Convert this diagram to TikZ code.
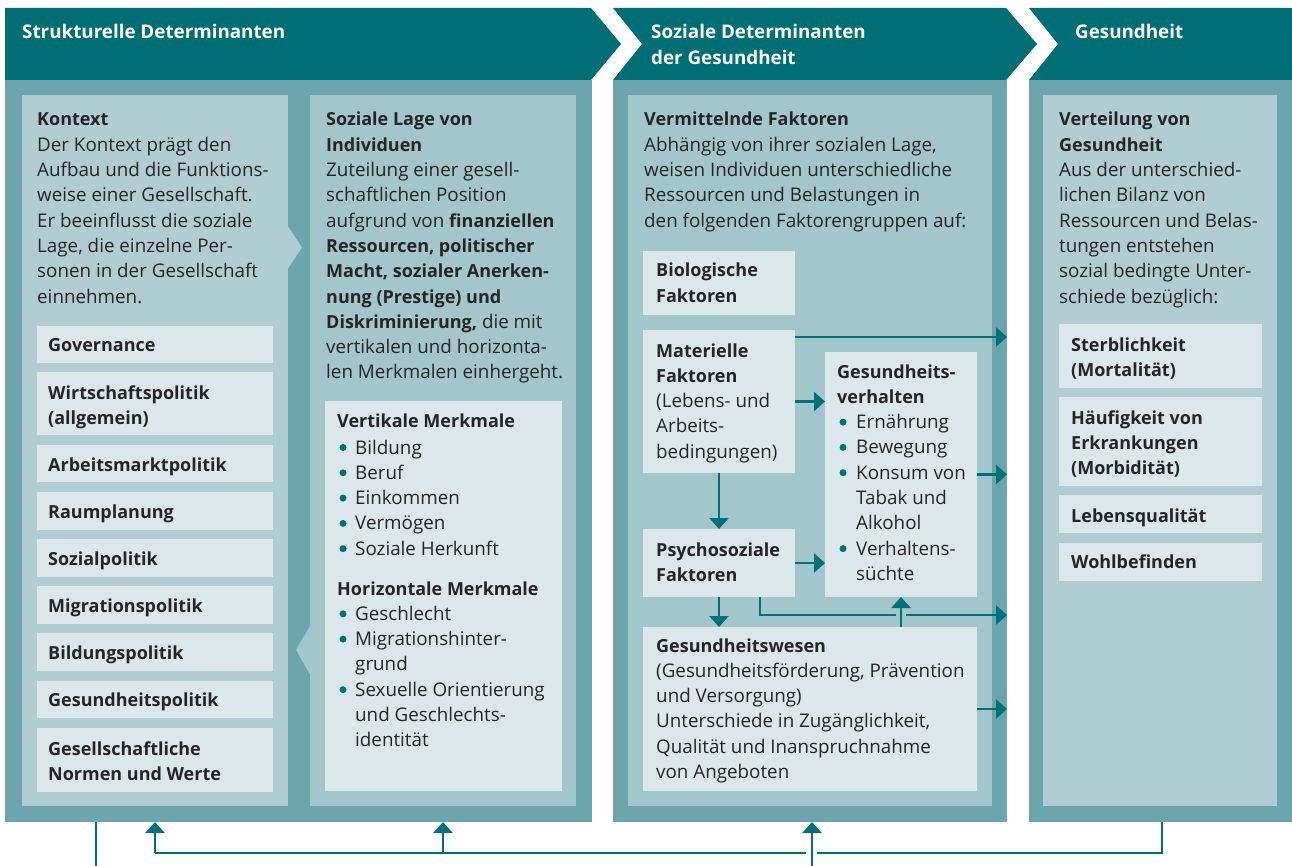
\documentclass[tikz,border=0pt]{standalone}
\usepackage{fontspec}
\setmainfont{Open Sans}
\usetikzlibrary{arrows.meta}
\definecolor{hdr}{HTML}{006E75}
\definecolor{pnl}{HTML}{6CA5AE}
\definecolor{boxa}{HTML}{B1CCD3}
\definecolor{boxb}{HTML}{A3C5CC}
\definecolor{lbx}{HTML}{DCE7EB}
\definecolor{txt}{HTML}{262424}
\definecolor{arr}{HTML}{00707A}
\newcommand\ml[1]{\begin{tabular}[t]{@{}l@{}}#1\end{tabular}}
\newcommand\bb[1]{{\bfseries\fontsize{18}{25.3}\selectfont #1}}
\begin{document}
\begin{tikzpicture}[x=1pt,y=-1pt,
  rbox/.style={draw=none, inner sep=0pt, outer sep=0pt, anchor=north west},
  txtn/.style={inner sep=0pt, anchor=base west, text=txt, font=\fontsize{18.8}{25.3}\selectfont},
  bft/.style={txtn, font=\bfseries\fontsize{18}{25.3}\selectfont},
  hdrtxt/.style={inner sep=0pt, anchor=base west, text=white, font=\bfseries\fontsize{18.8}{25.3}\selectfont},
  conn/.style={draw=arr, line width=2.5pt, -{Triangle[length=11pt,width=19pt]}},
  plainline/.style={draw=arr, line width=2.3pt},
  bul/.style={circle, fill=arr, inner sep=0pt, minimum size=7pt}
]
\useasboundingbox (0,0) rectangle (1292,866);
\fill[white] (0,0) rectangle (1292,866);

% headers
\fill[hdr] (5,8) -- (591,8) -- (621,44) -- (591,80) -- (5,80) -- cycle;
\fill[hdr] (613,8) -- (1006,8) -- (1037,44) -- (1006,80) -- (613,80) -- (642,44) -- cycle;
\fill[hdr] (1029,8) -- (1292,8) -- (1292,80) -- (1029,80) -- (1058,44) -- cycle;
\node[hdrtxt] (h1) at (22,39) {Strukturelle Determinanten};
\node[hdrtxt] (h2) at (651,39) {\ml{Soziale Determinanten\\der Gesundheit}};
\node[hdrtxt] (h3) at (1075,39) {Gesundheit};

% panels
\node[rbox, fill=pnl, minimum width=587pt, minimum height=742pt] (p1) at (5,80) {};
\node[rbox, fill=pnl, minimum width=394pt, minimum height=742pt] (p2) at (613,80) {};
\node[rbox, fill=pnl, minimum width=263pt, minimum height=742pt] (p3) at (1029,80) {};

% inner boxes
\node[rbox, fill=boxa, minimum width=266pt, minimum height=711pt] (kon) at (22,95) {};
\fill[boxa] (287,225) -- (302,247.5) -- (287,270) -- cycle;
\node[rbox, fill=boxb, minimum width=266pt, minimum height=711pt] (sl) at (310,95) {};
\fill[boxb] (311,624) -- (296,650) -- (311,676) -- cycle;
\node[rbox, fill=boxb, minimum width=364pt, minimum height=711pt] (vf) at (628,95) {};
\node[rbox, fill=boxa, minimum width=234pt, minimum height=711pt] (vg) at (1043,95) {};

% Kontext
\node[txtn] (kont) at (37,126) {\ml{\bb{Kontext}\\Der Kontext prägt den\\Aufbau und die Funktions-\\weise einer Gesellschaft.\\Er beeinflusst die soziale\\Lage, die einzelne Per-\\sonen in der Gesellschaft\\einnehmen.}};

\node[rbox, fill=lbx, minimum width=236pt, minimum height=37pt] (b1) at (37,326) {};
\node[bft] at (48,352) {Governance};
\node[rbox, fill=lbx, minimum width=236pt, minimum height=63pt] (b2) at (37,372) {};
\node[bft] at (48,399) {\ml{Wirtschaftspolitik\\(allgemein)}};
\node[rbox, fill=lbx, minimum width=236pt, minimum height=37pt] (b3) at (37,445) {};
\node[bft] at (48,471) {Arbeitsmarktpolitik};
\node[rbox, fill=lbx, minimum width=236pt, minimum height=38pt] (b4) at (37,492) {};
\node[bft] at (48,518) {Raumplanung};
\node[rbox, fill=lbx, minimum width=236pt, minimum height=38pt] (b5) at (37,539) {};
\node[bft] at (48,565) {Sozialpolitik};
\node[rbox, fill=lbx, minimum width=236pt, minimum height=38pt] (b6) at (37,586) {};
\node[bft] at (48,612) {Migrationspolitik};
\node[rbox, fill=lbx, minimum width=236pt, minimum height=38pt] (b7) at (37,633) {};
\node[bft] at (48,659) {Bildungspolitik};
\node[rbox, fill=lbx, minimum width=236pt, minimum height=37pt] (b8) at (37,681) {};
\node[bft] at (48,706) {Gesundheitspolitik};
\node[rbox, fill=lbx, minimum width=236pt, minimum height=64pt] (b9) at (37,728) {};
\node[bft] at (48,755) {\ml{Gesellschaftliche\\Normen und Werte}};

% Soziale Lage
\node[txtn] (slt) at (326,126) {\ml{\bb{Soziale Lage von}\\\bb{Individuen}\\Zuteilung einer gesell-\\schaftlichen Position\\aufgrund von \bb{finanziellen}\\\bb{Ressourcen, politischer}\\\bb{Macht, sozialer Anerken-}\\\bb{nung (Prestige) und}\\\bb{Diskriminierung,} die mit\\vertikalen und horizonta-\\len Merkmalen einhergeht.}};

\node[rbox, fill=lbx, minimum width=237pt, minimum height=390pt] (mm) at (325,401) {};
\node[bft] at (337,427) {Vertikale Merkmale};
\node[txtn] at (355,454) {\ml{Bildung\\Beruf\\Einkommen\\Vermögen\\Soziale Herkunft}};
\node[bft] at (337,595) {Horizontale Merkmale};
\node[txtn] at (355,620.3) {\ml{Geschlecht\\Migrationshinter-\\grund\\Sexuelle Orientierung\\und Geschlechts-\\identität}};
\foreach \yy in {454,479.3,504.6,529.9,555.2,620.3,645.6,696.2}
  \node[bul] at (343,\yy-6.5) {};

% Vermittelnde Faktoren
\node[txtn] (vft) at (644,126) {\ml{\bb{Vermittelnde Faktoren}\\Abhängig von ihrer sozialen Lage,\\weisen Individuen unterschiedliche\\Ressourcen und Belastungen in\\den folgenden Faktorengruppen auf:}};

\node[rbox, fill=lbx, minimum width=152pt, minimum height=64pt] (bio) at (643,251) {};
\node[bft] at (656,277) {\ml{Biologische\\Faktoren}};
\node[rbox, fill=lbx, minimum width=152pt, minimum height=143pt] (mat) at (643,330) {};
\node[txtn] at (656,357) {\ml{\bb{Materielle}\\\bb{Faktoren}\\(Lebens- und\\Arbeits-\\bedingungen)}};
\node[rbox, fill=lbx, minimum width=152pt, minimum height=68pt] (psy) at (643,529) {};
\node[bft] at (656,556) {\ml{Psychosoziale\\Faktoren}};
\node[rbox, fill=lbx, minimum width=152pt, minimum height=245pt] (gv) at (825,352) {};
\node[bft] at (837,378) {\ml{Gesundheits-\\verhalten}};
\node[txtn] at (856,428.6) {\ml{Ernährung\\Bewegung\\Konsum von\\Tabak und\\Alkohol\\Verhaltens-\\süchte}};
\foreach \yy in {428.6,453.9,479.2,555.1}
  \node[bul] at (843,\yy-6.5) {};
\node[rbox, fill=lbx, minimum width=334pt, minimum height=164pt] (gw) at (643,627) {};
\node[txtn] at (656,652) {\ml{\bb{Gesundheitswesen}\\(Gesundheitsförderung, Prävention\\und Versorgung)\\Unterschiede in Zugänglichkeit,\\Qualität und Inanspruchnahme\\von Angeboten}};

% Verteilung von Gesundheit
\node[txtn] (vgt) at (1059,126) {\ml{\bb{Verteilung von}\\\bb{Gesundheit}\\Aus der unterschied-\\lichen Bilanz von\\Ressourcen und Belas-\\tungen entstehen\\sozial bedingte Unter-\\schiede bezüglich:}};
\node[rbox, fill=lbx, minimum width=203pt, minimum height=64pt] (r1) at (1059,324) {};
\node[bft] at (1071,351) {\ml{Sterblichkeit\\(Mortalität)}};
\node[rbox, fill=lbx, minimum width=203pt, minimum height=89pt] (r2) at (1059,397) {};
\node[bft] at (1071,424) {\ml{Häufigkeit von\\Erkrankungen\\(Morbidität)}};
\node[rbox, fill=lbx, minimum width=203pt, minimum height=38pt] (r3) at (1059,495) {};
\node[bft] at (1071,522) {Lebensqualität};
\node[rbox, fill=lbx, minimum width=203pt, minimum height=38pt] (r4) at (1059,543) {};
\node[bft] at (1071,568) {Wohlbefinden};

% connectors inside panel 2
\coordinate (rr) at (1007,0);
\draw[conn] ([yshift=-7pt]mat.north east) -- ([yshift=-7pt]mat.north east -| rr);
\draw[conn] (mat.east) -- (mat.east -| gv.west);
\draw[conn] (mat.south) -- (psy.north);
\draw[conn] (psy.east) -- (psy.east -| gv.west);
\draw[conn] (gv.east) -- (gv.east -| rr);
\draw[conn] (psy.south) -- (psy.south |- gw.north);
\coordinate (k1) at (760,615);
\coordinate (k2) at (896,615);
\coordinate (k3) at (906,615);
\draw[plainline] (psy.south -| k1) -- (k1) -- (k2);
\draw[conn] (k3) -- (k3 -| rr);
\draw[conn] (gw.north -| gv.south) -- (gv.south);
\draw[conn] (gw.east) -- (gw.east -| rr);

% bottom connectors
\coordinate (q0) at (96,866);
\coordinate (q1) at (155,853);
\coordinate (q2) at (443,853);
\coordinate (q3) at (806,853);
\coordinate (q4) at (817,853);
\coordinate (q5) at (1162,853);
\coordinate (q6) at (812,866);
\draw[plainline] (p1.south -| q0) -- (q0);
\draw[plainline] (p3.south -| q5) -- (q5) -- (q4);
\draw[plainline] (q3) -- (q1);
\draw[conn] (q1) -- (p1.south -| q1);
\draw[conn] (q2) -- (p1.south -| q2);
\draw[conn] (q6) -- (p2.south -| q6);
\end{tikzpicture}
\end{document}
